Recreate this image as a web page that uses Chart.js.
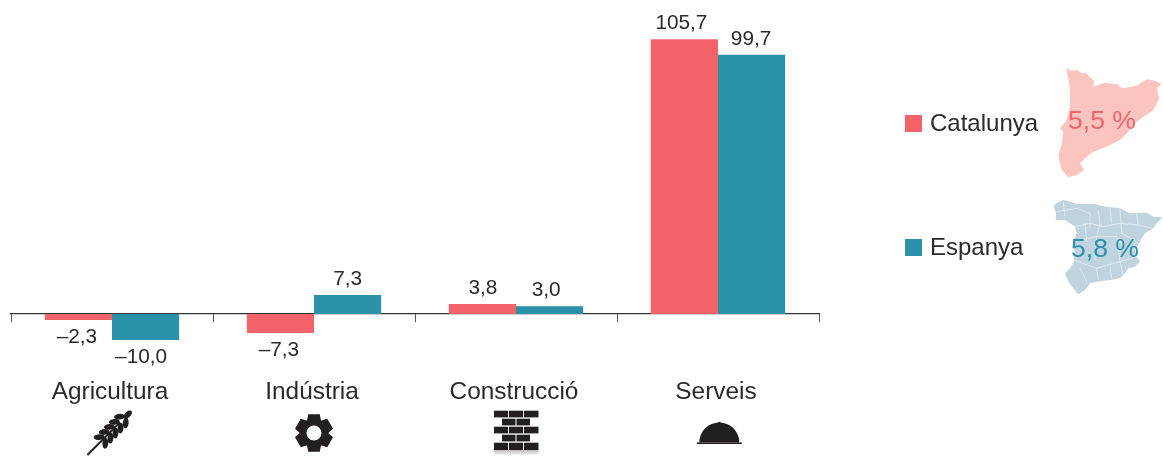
<!DOCTYPE html>
<html>
<head>
<meta charset="utf-8">
<style>html,body{margin:0;padding:0;background:#fff;overflow:hidden}canvas{display:block}</style>
<script src="https://cdn.jsdelivr.net/npm/chart.js@4"></script>
</head>
<body>
<canvas id="c" width="1163" height="457"></canvas>
<script>
const categories = ['Agricultura', 'Indústria', 'Construcció', 'Serveis'];
const catalunya = [-2.3, -7.3, 3.8, 105.7];
const espanya = [-10.0, 7.3, 3.0, 99.7];
const seriesNames = ['Catalunya', 'Espanya'];
const seriesColors = ['#F4626A', '#2A91A8'];
const mapColors = ['#FBC4BF', '#C0D4DF'];
const totals = ['5,5 %', '5,8 %'];

const FONT = '"Liberation Sans", Arial, sans-serif';
const INK = '#2b2a2b';

// Decorative silhouettes (zoom-crop units: origin 890,60, scale 3)
const catShape = [[528,25],[545,32],[562,31],[575,40],[590,40],[600,52],[612,62],[610,80],[625,75],[637,70],[650,68],[668,73],[680,72],[692,82],[700,85],[725,80],[745,75],[757,66],[770,58],[795,62],[815,72],[800,85],[808,115],[790,150],[760,170],[735,190],[715,215],[690,240],[650,260],[610,275],[590,290],[570,310],[582,330],[560,345],[535,352],[515,330],[505,285],[515,255],[520,215],[510,205],[530,180],[540,140],[540,90],[535,55]];
const spainShape = [[490,437],[500,430],[520,420],[540,425],[560,432],[610,432],[650,440],[690,445],[720,460],[770,458],[790,470],[818,472],[800,490],[790,505],[765,520],[755,535],[745,555],[735,570],[740,590],[750,605],[735,620],[715,625],[705,640],[690,655],[660,660],[620,665],[600,670],[585,690],[565,703],[550,685],[535,665],[525,640],[535,630],[550,610],[555,580],[550,545],[560,520],[555,500],[525,480],[497,480],[498,460]];
const spainLines = [
 [[520,425],[525,470]],[[500,455],[560,445],[600,460],[600,500]],[[555,500],[600,490],[640,500],[690,490],[745,495]],
 [[625,450],[630,490],[620,530]],[[660,445],[665,490]],[[690,450],[695,520],[735,540]],[[740,460],[745,495],[790,505]],
 [[550,545],[620,530],[680,530],[700,560]],[[620,530],[615,600]],[[550,600],[620,625],[690,605],[740,590]],
 [[680,530],[690,605],[700,645]],[[620,625],[625,660]],[[570,625],[590,665]],[[660,620],[665,655]],[[585,490],[590,545]]
];

const decorations = {
  id: 'decorations',
  afterDatasetsDraw(chart) {
    const ctx = chart.ctx;
    const ox = x => 890 + x / 3, oy = y => 60 + y / 3;
    ctx.save();

    // value labels
    const nudge = [[-1.5, -1.5, 0.5, -3], [-4.5, 0, -3.5, -0.5]];
    ctx.font = '20.8px ' + FONT;
    ctx.fillStyle = INK;
    ctx.textAlign = 'center';
    ctx.textBaseline = 'middle';
    chart.data.datasets.forEach((ds, i) => {
      chart.getDatasetMeta(i).data.forEach((bar, j) => {
        const v = ds.data[j];
        const txt = (v < 0 ? '–' : '') + Math.abs(v).toFixed(1).replace('.', ',');
        ctx.fillText(txt, bar.x + nudge[i][j], v < 0 ? bar.y + 17 : bar.y - 16);
      });
    });

    // maps
    function poly(pts, col) {
      ctx.beginPath();
      pts.forEach((p, i) => i ? ctx.lineTo(ox(p[0]), oy(p[1])) : ctx.moveTo(ox(p[0]), oy(p[1])));
      ctx.closePath();
      ctx.fillStyle = col;
      ctx.fill();
    }
    poly(catShape, mapColors[0]);
    poly(spainShape, mapColors[1]);
    ctx.strokeStyle = 'rgba(255,255,255,.7)';
    ctx.lineWidth = 0.7;
    spainLines.forEach(l => {
      ctx.beginPath();
      l.forEach((p, i) => i ? ctx.lineTo(ox(p[0]), oy(p[1])) : ctx.moveTo(ox(p[0]), oy(p[1])));
      ctx.stroke();
    });

    // legend + totals
    const rowY = [124, 248], pctX = [1102, 1105], pctY = [121.5, 250];
    chart.data.datasets.forEach((ds, i) => {
      ctx.fillStyle = ds.backgroundColor;
      ctx.fillRect(905, rowY[i] - 9, 17, 17);
      ctx.fillStyle = INK;
      ctx.font = '24px ' + FONT;
      ctx.textAlign = 'left';
      ctx.textBaseline = 'middle';
      ctx.fillText(ds.label, 930, rowY[i]);
      ctx.fillStyle = ds.backgroundColor;
      ctx.font = '26.6px ' + FONT;
      ctx.textAlign = 'center';
      ctx.fillText(totals[i], pctX[i], pctY[i]);
    });

    // icons, centred under each category
    const xs = chart.scales.x;
    const cx = categories.map((_, i) => xs.getPixelForTick(i));
    ctx.fillStyle = '#231f20';
    ctx.strokeStyle = '#231f20';

    // wheat
    (function (x, y) {
      ctx.save();
      ctx.translate(x, y);
      ctx.rotate(-Math.PI / 4);
      ctx.lineWidth = 2;
      ctx.beginPath(); ctx.moveTo(-32, 0); ctx.lineTo(14, 0); ctx.stroke();
      for (let k = 0; k < 5; k++) {
        const t = -11 + k * 7.2;
        [-1, 1].forEach(s => {
          ctx.beginPath();
          ctx.ellipse(t, s * 4.4, 5.4, 2.9, s * -0.7, 0, 2 * Math.PI);
          ctx.fill();
        });
      }
      ctx.beginPath(); ctx.ellipse(25, 0, 5.4, 2.8, 0, 0, 2 * Math.PI); ctx.fill();
      ctx.restore();
    })(cx[0] - 2, 432.4);

    // gear
    (function (x, y) {
      const R = 19.5, r = 14.5;
      ctx.beginPath();
      for (let k = 0; k < 6; k++) {
        const a = -Math.PI / 2 + k * Math.PI / 3;
        const w = 0.30, w2 = 0.42;
        const pts = [[r, a - w2 - 0.08], [R, a - w], [R, a + w], [r, a + w2 + 0.08]];
        pts.forEach(p => {
          const px = x + p[0] * Math.cos(p[1]), py = y + p[0] * Math.sin(p[1]);
          (k === 0 && p === pts[0]) ? ctx.moveTo(px, py) : ctx.lineTo(px, py);
        });
      }
      ctx.closePath();
      ctx.moveTo(x + 7.5, y);
      ctx.arc(x, y, 7.5, 0, 2 * Math.PI, true);
      ctx.fill();
    })(cx[1], 433);

    // bricks
    (function (x) {
      const rows = [410.7, 418.7, 426.7, 434.7, 442.7];
      const full = [[-23, 14], [-8, 14], [7, 14.5]], half = [[-15, 13.5], [-0.5, 13.5]];
      rows.forEach((y, i) => {
        (i % 2 ? half : full).forEach(b => {
          ctx.fillRect(x + b[0], y, b[1], i === 4 ? 7.3 : 6.7);
        });
      });
      const g = ctx.createLinearGradient(0, 450, 0, 456);
      g.addColorStop(0, 'rgba(60,60,60,.35)');
      g.addColorStop(1, 'rgba(60,60,60,0)');
      ctx.fillStyle = g;
      ctx.fillRect(x - 23, 450, 44.5, 6);
      ctx.fillStyle = '#231f20';
    })(cx[2] + 1);

    // cloche
    (function (x) {
      ctx.beginPath();
      ctx.arc(x, 442.5, 20, Math.PI, 2 * Math.PI);
      ctx.closePath();
      ctx.fill();
      ctx.beginPath(); ctx.arc(x, 423.5, 1.8, 0, 2 * Math.PI); ctx.fill();
      ctx.fillRect(x - 22.5, 442.5, 45, 1.5);
    })(cx[3] + 1.3);

    ctx.restore();
  }
};

new Chart(document.getElementById('c'), {
  type: 'bar',
  data: {
    labels: categories,
    datasets: [
      { label: seriesNames[0], data: catalunya, backgroundColor: seriesColors[0], borderWidth: 0 },
      { label: seriesNames[1], data: espanya, backgroundColor: seriesColors[1], borderWidth: 0 }
    ]
  },
  plugins: [decorations],
  options: {
    responsive: false,
    animation: false,
    devicePixelRatio: 1,
    layout: { autoPadding: false, padding: { left: 11, right: 344, top: 0, bottom: 0 } },
    plugins: { legend: { display: false }, tooltip: { enabled: false } },
    datasets: { bar: { barPercentage: 1, categoryPercentage: 0.665 } },
    scales: {
      y: { display: false, min: -55, max: 120.77 },
      x: {
        position: { y: 0 },
        z: 1,
        offset: true,
        afterFit(s) { s.paddingLeft = 0; s.paddingRight = 0; if (s._margins) { s._margins.left = 0; s._margins.right = 0; } },
        grid: { offset: true, drawOnChartArea: false, drawTicks: true, tickLength: 8, color: '#555', lineWidth: 1 },
        border: { display: true, color: '#333', width: 1.2 },
        ticks: { color: INK, font: { family: FONT, size: 24.4 }, padding: 56, labelOffset: -2, autoSkip: false, maxRotation: 0 }
      }
    }
  }
});
</script>
</body>
</html>
